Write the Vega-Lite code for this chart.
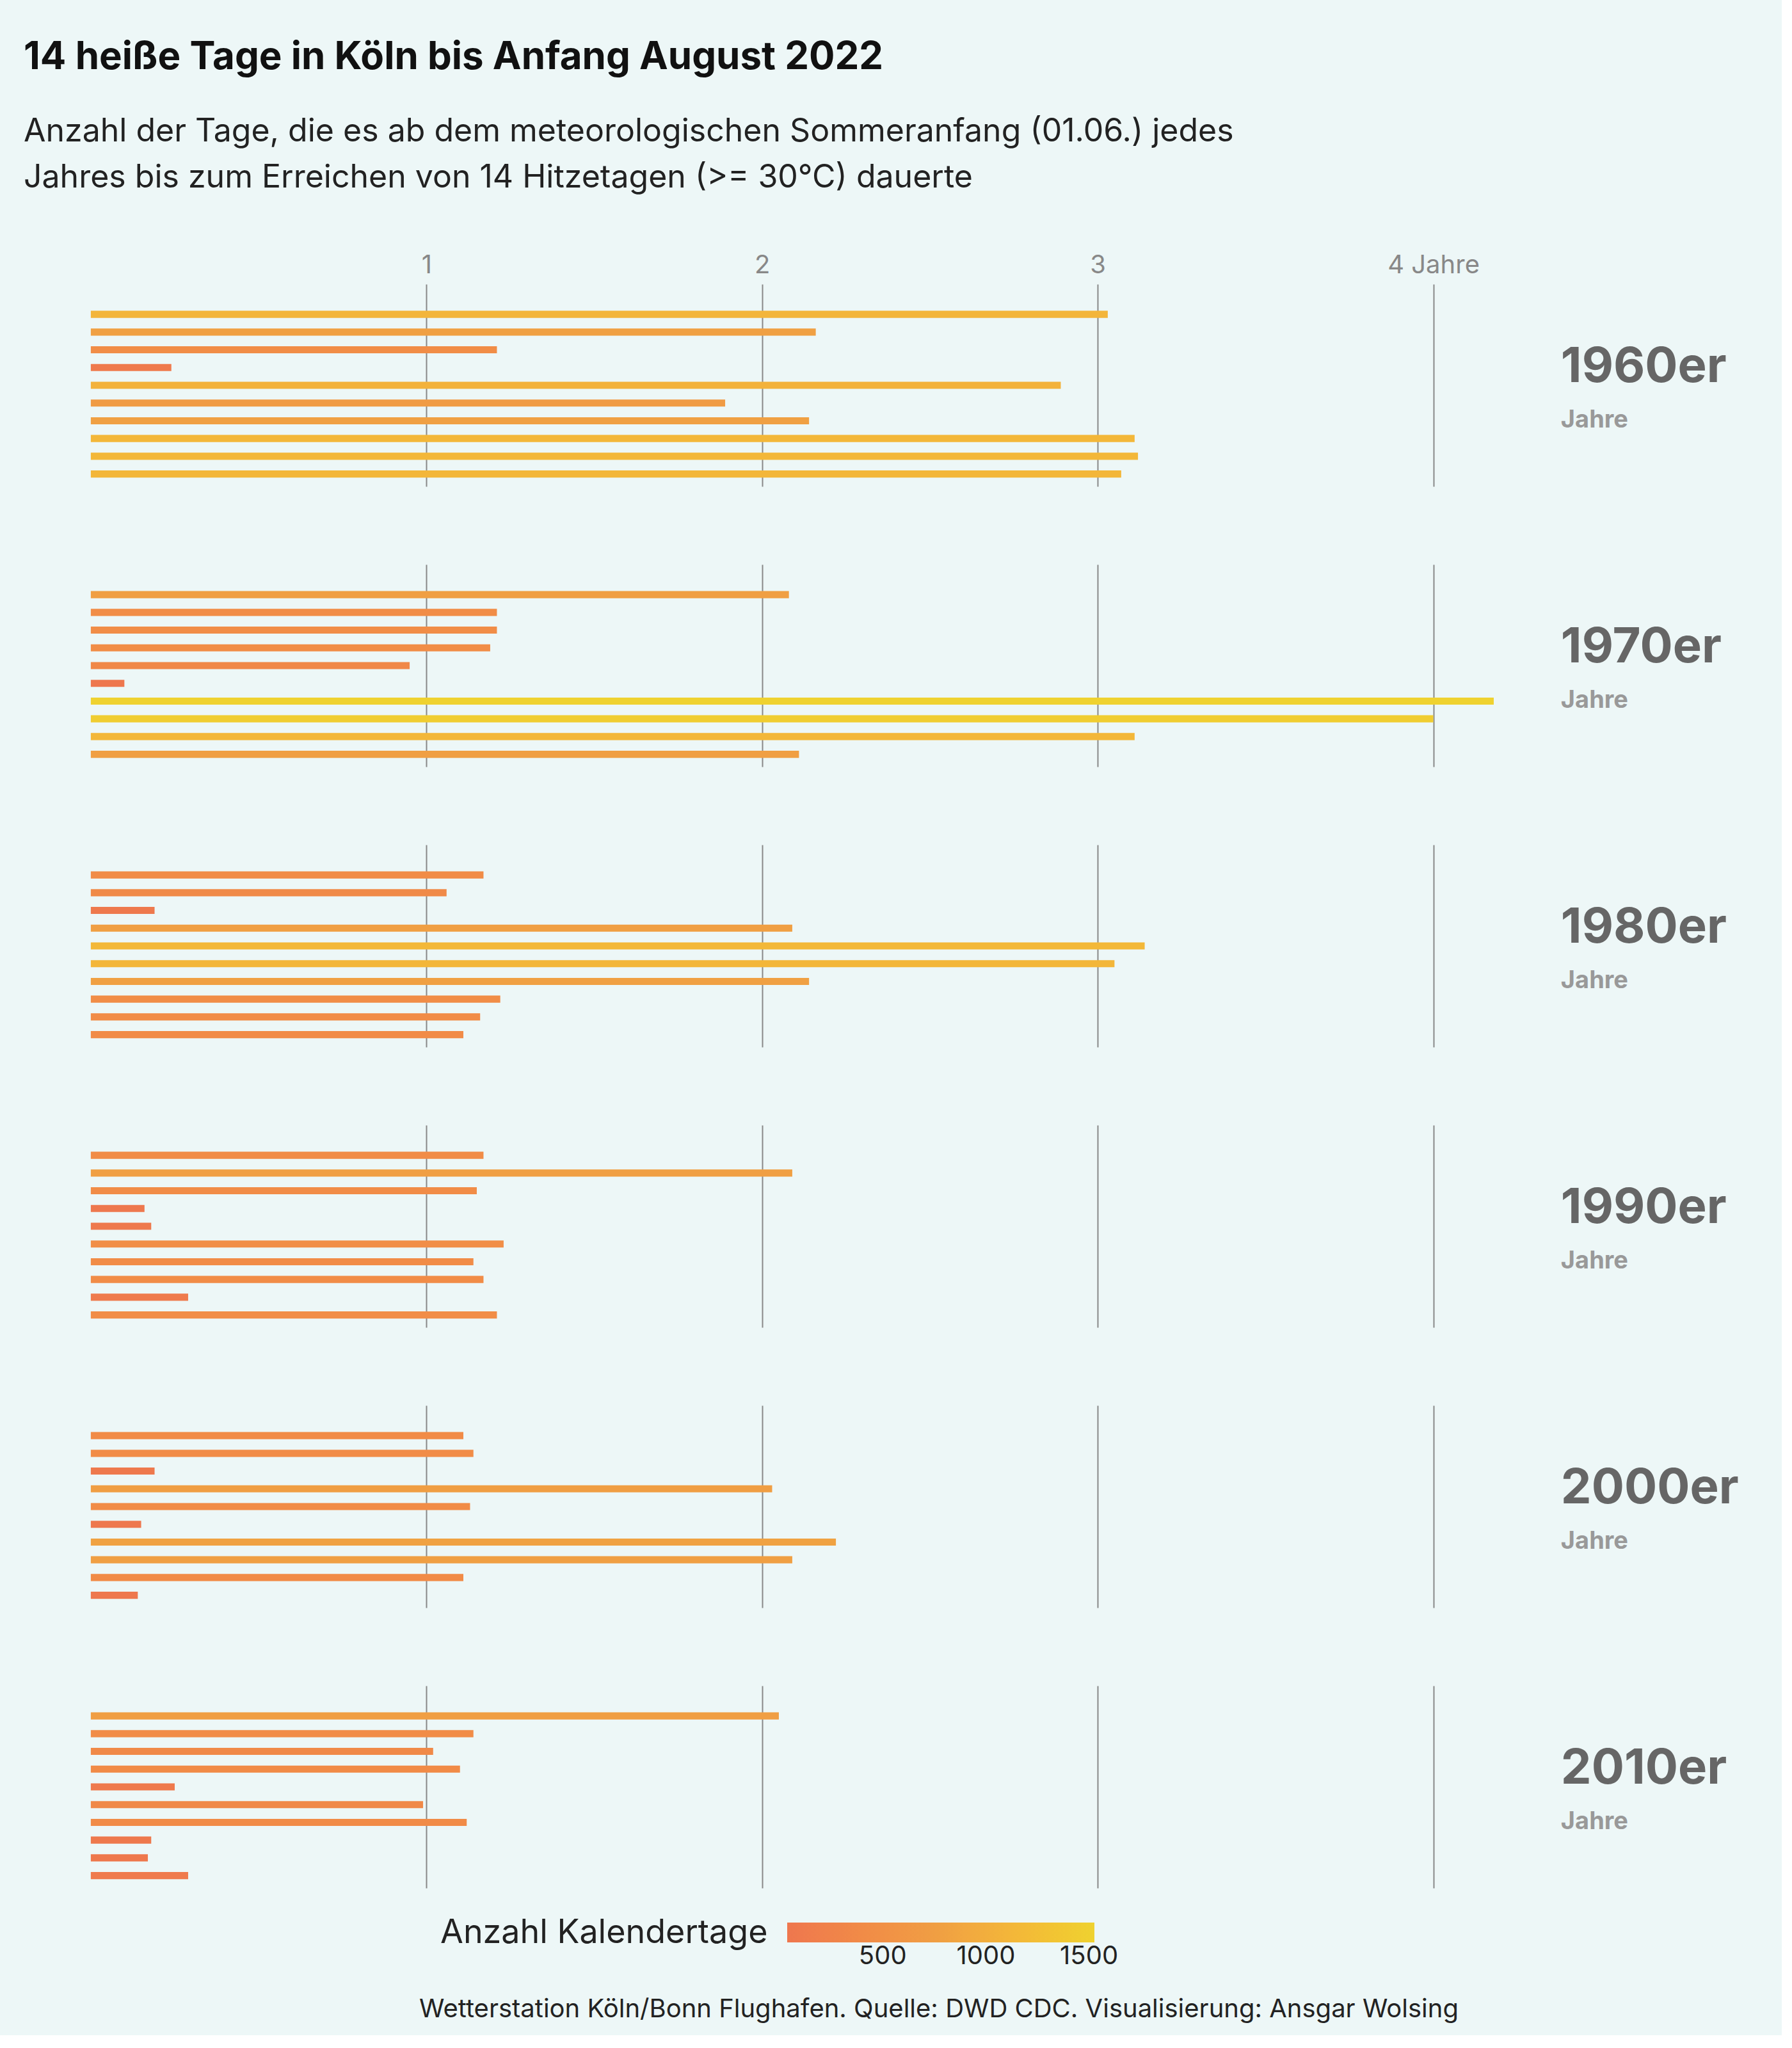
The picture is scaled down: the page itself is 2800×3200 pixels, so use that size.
{
"$schema":"https://vega.github.io/schema/vega-lite/v6.json",
"background":"#EDF7F7",
"padding":{"left":37,"top":60,"right":20,"bottom":20},
"title":{"text":"14 heiße Tage in Köln bis Anfang August 2022","subtitle":["Anzahl der Tage, die es ab dem meteorologischen Sommeranfang (01.06.) jedes","Jahres bis zum Erreichen von 14 Hitzetagen (>= 30°C) dauerte"],"anchor":"start","fontSize":60,"fontWeight":"bold","font":"Inter","color":"#111","subtitleFont":"Inter","subtitleFontSize":50,"subtitleColor":"#222","subtitleLineHeight":72,"subtitlePadding":60,"offset":90},
"config":{"view":{"stroke":null},"font":"Inter"},
"vconcat":[
{
"data":{"values":[
{"year":1960,"decade":1960,"label":"1960er","jahre":3.03,"tage":1106},
{"year":1961,"decade":1960,"label":"1960er","jahre":2.16,"tage":788},
{"year":1962,"decade":1960,"label":"1960er","jahre":1.21,"tage":442},
{"year":1963,"decade":1960,"label":"1960er","jahre":0.24,"tage":88},
{"year":1964,"decade":1960,"label":"1960er","jahre":2.89,"tage":1055},
{"year":1965,"decade":1960,"label":"1960er","jahre":1.89,"tage":690},
{"year":1966,"decade":1960,"label":"1960er","jahre":2.14,"tage":781},
{"year":1967,"decade":1960,"label":"1960er","jahre":3.11,"tage":1135},
{"year":1968,"decade":1960,"label":"1960er","jahre":3.12,"tage":1139},
{"year":1969,"decade":1960,"label":"1960er","jahre":3.07,"tage":1121},
{"year":1970,"decade":1970,"label":"1970er","jahre":2.08,"tage":759},
{"year":1971,"decade":1970,"label":"1970er","jahre":1.21,"tage":442},
{"year":1972,"decade":1970,"label":"1970er","jahre":1.21,"tage":441},
{"year":1973,"decade":1970,"label":"1970er","jahre":1.19,"tage":434},
{"year":1974,"decade":1970,"label":"1970er","jahre":0.95,"tage":347},
{"year":1975,"decade":1970,"label":"1970er","jahre":0.10,"tage":37},
{"year":1976,"decade":1970,"label":"1970er","jahre":4.18,"tage":1526},
{"year":1977,"decade":1970,"label":"1970er","jahre":4.00,"tage":1460},
{"year":1978,"decade":1970,"label":"1970er","jahre":3.11,"tage":1135},
{"year":1979,"decade":1970,"label":"1970er","jahre":2.11,"tage":770},
{"year":1980,"decade":1980,"label":"1980er","jahre":1.17,"tage":427},
{"year":1981,"decade":1980,"label":"1980er","jahre":1.06,"tage":387},
{"year":1982,"decade":1980,"label":"1980er","jahre":0.19,"tage":69},
{"year":1983,"decade":1980,"label":"1980er","jahre":2.09,"tage":763},
{"year":1984,"decade":1980,"label":"1980er","jahre":3.14,"tage":1146},
{"year":1985,"decade":1980,"label":"1980er","jahre":3.05,"tage":1113},
{"year":1986,"decade":1980,"label":"1980er","jahre":2.14,"tage":781},
{"year":1987,"decade":1980,"label":"1980er","jahre":1.22,"tage":445},
{"year":1988,"decade":1980,"label":"1980er","jahre":1.16,"tage":423},
{"year":1989,"decade":1980,"label":"1980er","jahre":1.11,"tage":405},
{"year":1990,"decade":1990,"label":"1990er","jahre":1.17,"tage":427},
{"year":1991,"decade":1990,"label":"1990er","jahre":2.09,"tage":763},
{"year":1992,"decade":1990,"label":"1990er","jahre":1.15,"tage":420},
{"year":1993,"decade":1990,"label":"1990er","jahre":0.16,"tage":58},
{"year":1994,"decade":1990,"label":"1990er","jahre":0.18,"tage":66},
{"year":1995,"decade":1990,"label":"1990er","jahre":1.23,"tage":449},
{"year":1996,"decade":1990,"label":"1990er","jahre":1.14,"tage":416},
{"year":1997,"decade":1990,"label":"1990er","jahre":1.17,"tage":427},
{"year":1998,"decade":1990,"label":"1990er","jahre":0.29,"tage":106},
{"year":1999,"decade":1990,"label":"1990er","jahre":1.21,"tage":442},
{"year":2000,"decade":2000,"label":"2000er","jahre":1.11,"tage":405},
{"year":2001,"decade":2000,"label":"2000er","jahre":1.14,"tage":416},
{"year":2002,"decade":2000,"label":"2000er","jahre":0.19,"tage":69},
{"year":2003,"decade":2000,"label":"2000er","jahre":2.03,"tage":741},
{"year":2004,"decade":2000,"label":"2000er","jahre":1.13,"tage":412},
{"year":2005,"decade":2000,"label":"2000er","jahre":0.15,"tage":55},
{"year":2006,"decade":2000,"label":"2000er","jahre":2.22,"tage":810},
{"year":2007,"decade":2000,"label":"2000er","jahre":2.09,"tage":763},
{"year":2008,"decade":2000,"label":"2000er","jahre":1.11,"tage":405},
{"year":2009,"decade":2000,"label":"2000er","jahre":0.14,"tage":51},
{"year":2010,"decade":2010,"label":"2010er","jahre":2.05,"tage":748},
{"year":2011,"decade":2010,"label":"2010er","jahre":1.14,"tage":416},
{"year":2012,"decade":2010,"label":"2010er","jahre":1.02,"tage":372},
{"year":2013,"decade":2010,"label":"2010er","jahre":1.10,"tage":402},
{"year":2014,"decade":2010,"label":"2010er","jahre":0.25,"tage":91},
{"year":2015,"decade":2010,"label":"2010er","jahre":0.99,"tage":361},
{"year":2016,"decade":2010,"label":"2010er","jahre":1.12,"tage":409},
{"year":2017,"decade":2010,"label":"2010er","jahre":0.18,"tage":66},
{"year":2018,"decade":2010,"label":"2010er","jahre":0.17,"tage":62},
{"year":2019,"decade":2010,"label":"2010er","jahre":0.29,"tage":106}
]},
"facet":{"row":{"field":"decade","type":"ordinal","header":null}},
"spacing":122,
"resolve":{"scale":{"y":"independent"}},
"spec":{
"width":2727,"height":316,
"layer":[
{"mark":{"type":"bar"},
"encoding":{
"y":{"field":"year","type":"ordinal","axis":null,"scale":{"paddingInner":0.6,"paddingOuter":1.3,"align":0.75}},
"x":{"field":"jahre","type":"quantitative","scale":{"domain":[-0.2,5.0],"nice":false,"zero":false},
"axis":{"orient":"top","values":[1,2,3,4],"format":"d","labelExpr":"datum.value==4 ? '4 Jahre' : datum.label","title":null,"domain":false,"ticks":false,"grid":true,"gridColor":"#888","gridWidth":2,"labelColor":"#888","labelFontSize":40,"labelPadding":10}},
"x2":{"datum":0},
"color":{"field":"tage","type":"quantitative","scale":{"range":["#EE774E","#F0A043","#EFD230"]},
"legend":{"orient":"none","legendX":651,"legendY":2560,"direction":"horizontal","title":"Anzahl Kalendertage","titleOrient":"left","titleFontSize":52,"titleFontWeight":"normal","titleColor":"#222","titlePadding":30,"titleLimit":2000,"gradientLength":480,"gradientThickness":31,"values":[500,1000,1500],"format":"d","labelFontSize":40,"labelColor":"#222"}}
}},
{"transform":[{"filter":"datum.year % 10 == 3"}],
"mark":{"type":"text","align":"left","baseline":"middle","fontSize":76,"fontWeight":"bold","color":"#666"},
"encoding":{"x":{"datum":4.38},"y":{"field":"year","type":"ordinal","bandPosition":0.5},"text":{"field":"label"}}},
{"transform":[{"filter":"datum.year % 10 == 6"}],
"mark":{"type":"text","align":"left","baseline":"middle","fontSize":38,"fontWeight":"bold","color":"#999"},
"encoding":{"x":{"datum":4.38},"y":{"field":"year","type":"ordinal","bandPosition":0.5},"text":{"value":"Jahre"}}}
]}
},
{
"data":{"values":[{"caption":"Wetterstation Köln/Bonn Flughafen. Quelle: DWD CDC. Visualisierung: Ansgar Wolsing"}]},
"width":2727,"height":20,
"mark":{"type":"text","align":"center","baseline":"middle","fontSize":40,"color":"#222"},
"encoding":{"text":{"field":"caption"},"x":{"value":1430},"y":{"value":10}}
}
],
"spacing":170
}
